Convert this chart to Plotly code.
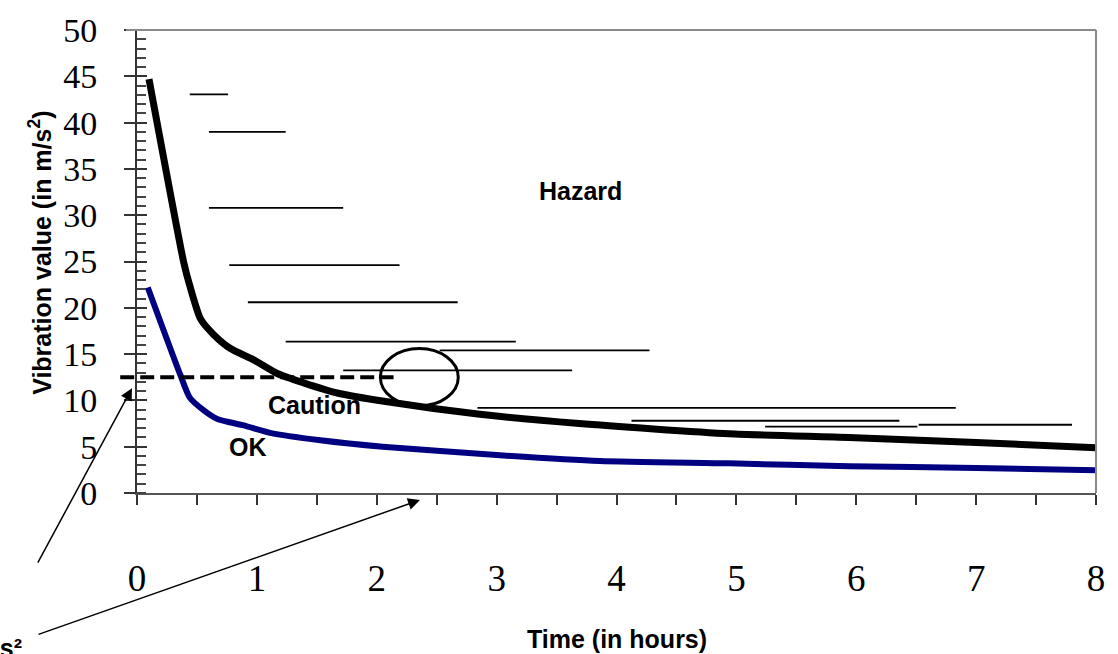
import plotly.graph_objects as go

# ---------------- data ----------------
hazard_t = [0.1, 0.39, 0.44, 0.53, 0.64, 0.78, 0.97, 1.17, 1.39, 1.67, 2.06, 2.86, 3.69, 4.94, 5.94, 7.0, 8.0]
hazard_v = [44.7, 24.9, 22.4, 18.8, 17.1, 15.6, 14.4, 12.9, 11.9, 10.8, 9.9, 8.5, 7.5, 6.4, 6.0, 5.45, 4.9]

ok_t = [0.09, 0.36, 0.44, 0.56, 0.67, 0.89, 1.11, 1.53, 2.05, 3.0, 3.86, 4.94, 5.94, 7.0, 8.0]
ok_v = [22.2, 12.8, 10.3, 8.9, 8.0, 7.3, 6.5, 5.7, 5.0, 4.1, 3.45, 3.2, 2.9, 2.7, 2.45]

caution_level = 12.5
caution_t = [-0.14, 2.14]

hatch_y = [43.05, 39.0, 30.8, 24.6, 20.6, 16.35, 15.4, 13.25, 9.19, 7.8, 7.16, 7.37]
hatch_t0 = [0.44, 0.60, 0.60, 0.77, 0.925, 1.24, 2.525, 1.72, 2.84, 4.125, 5.24, 6.52]
hatch_t1 = [0.76, 1.24, 1.72, 2.19, 2.675, 3.16, 4.275, 3.63, 6.83, 6.36, 6.51, 7.80]

ellipse_t = [2.03, 2.68]
ellipse_v = [9.4, 15.6]

x_range = [0, 8]
y_range = [0, 50]
x_ticks = [0, 1, 2, 3, 4, 5, 6, 7, 8]
y_ticks = [0, 5, 10, 15, 20, 25, 30, 35, 40, 45, 50]

region_labels = ["Hazard", "Caution", "OK"]
region_t = [3.7, 1.48, 0.93]
region_v = [32.6, 9.5, 5.0]

# arrow tips / tails (paper fractions of the plot area)
arrow_tip_x = [-0.0052, 0.2951]
arrow_tip_y = [0.2265, -0.015]
arrow_tail_dx = [-95, -383]
arrow_tail_dy = [176, 135]


def xpaper(t):
    return (t - x_range[0]) / (x_range[1] - x_range[0])


# ---------------- figure ----------------
fig = go.Figure()

hx, hy = [], []
for y, a, b in zip(hatch_y, hatch_t0, hatch_t1):
    hx += [a, b, None]
    hy += [y, y, None]
fig.add_trace(go.Scatter(x=hx, y=hy, mode="lines", line=dict(color="black", width=1.8),
                         hoverinfo="skip", showlegend=False))

fig.add_trace(go.Scatter(x=ok_t, y=ok_v, mode="lines",
                         line=dict(color="#000080", width=6, shape="spline", smoothing=0.6),
                         showlegend=False))
fig.add_trace(go.Scatter(x=hazard_t, y=hazard_v, mode="lines",
                         line=dict(color="black", width=7, shape="spline", smoothing=0.6),
                         showlegend=False))

# caution threshold (dashed) - extends a little left of the y axis
fig.add_shape(type="line", xref="paper", yref="y", x0=xpaper(caution_t[0]), x1=xpaper(caution_t[1]),
              y0=caution_level, y1=caution_level, line=dict(color="black", width=4, dash="14px,6px"))

fig.add_shape(type="circle", xref="x", yref="y", x0=ellipse_t[0], x1=ellipse_t[1],
              y0=ellipse_v[0], y1=ellipse_v[1], line=dict(color="black", width=3))

# plot border (top / right)
fig.add_shape(type="line", xref="paper", yref="paper", x0=-0.0115, x1=1, y0=1, y1=1,
              line=dict(color="#8a8a8a", width=2))
fig.add_shape(type="line", xref="paper", yref="paper", x0=1, x1=1, y0=0, y1=1,
              line=dict(color="#8a8a8a", width=2))

for txt, t, v in zip(region_labels, region_t, region_v):
    fig.add_annotation(x=t, y=v, text=txt, showarrow=False,
                       font=dict(family="Liberation Sans", size=25, color="black", weight="bold"))

# arrows
for tx, ty, dx, dy in zip(arrow_tip_x, arrow_tip_y, arrow_tail_dx, arrow_tail_dy):
    fig.add_annotation(xref="paper", yref="paper", x=tx, y=ty, ax=dx, ay=dy, text="",
                       showarrow=True, arrowhead=2, arrowsize=1.6, arrowwidth=1.5,
                       arrowcolor="black", standoff=0)

fig.add_annotation(xref="paper", yref="paper", x=-0.1178, y=-0.335, text=f"{caution_level} m/s²",
                   showarrow=False, xanchor="right", yanchor="middle",
                   font=dict(family="Liberation Sans", size=25, color="black", weight="bold"))

# axis titles
fig.add_annotation(xref="paper", yref="paper", x=-0.101, y=0.519, xanchor="center", yanchor="middle",
                   text="Vibration value (in m/s<sup>2</sup>)", textangle=-90, showarrow=False,
                   font=dict(family="Liberation Sans", size=25, color="black", weight="bold"))
fig.add_annotation(xref="paper", yref="paper", x=0.5005, y=-0.316, xanchor="center", yanchor="middle",
                   text="Time (in hours)", showarrow=False,
                   font=dict(family="Liberation Sans", size=25, color="black", weight="bold"))

fig.update_layout(
    width=1118, height=654, autosize=False,
    margin=dict(l=137, r=22, t=25, b=161),
    paper_bgcolor="white", plot_bgcolor="white",
    xaxis=dict(range=x_range, tickvals=x_ticks, ticktext=[str(v) for v in x_ticks],
               ticks="outside", ticklen=10, tickwidth=1.5, tickcolor="#333",
               minor=dict(dtick=0.5, ticks="outside", ticklen=10, tickwidth=1.5, tickcolor="#333"),
               showline=True, linecolor="#555", linewidth=2, showgrid=False, zeroline=False,
               tickfont=dict(family="Liberation Serif", size=37, color="black"),
               ticklabelstandoff=42),
    yaxis=dict(range=y_range, tickvals=y_ticks, ticktext=[str(v) for v in y_ticks],
               ticks="outside", ticklen=11, tickwidth=1.5, tickcolor="#333",
               minor=dict(dtick=1, ticks="inside", ticklen=9, tickwidth=1.5, tickcolor="#444"),
               showline=True, linecolor="#333", linewidth=2, showgrid=False, zeroline=False,
               tickfont=dict(family="Liberation Serif", size=34, color="black"),
               ticklabelstandoff=20),
    yaxis2=dict(range=y_range, overlaying="y", side="left", anchor="x", tickvals=y_ticks,
                ticks="inside", ticklen=10, tickwidth=1.5, tickcolor="#333",
                showticklabels=False, showgrid=False, zeroline=False, showline=False),
)
fig.add_trace(go.Scatter(x=[None], y=[None], yaxis="y2", showlegend=False, hoverinfo="skip"))

fig.write_html("out.html", config={"displayModeBar": False},
               post_script="document.body.style.margin='0px';document.body.style.overflow='hidden';")
